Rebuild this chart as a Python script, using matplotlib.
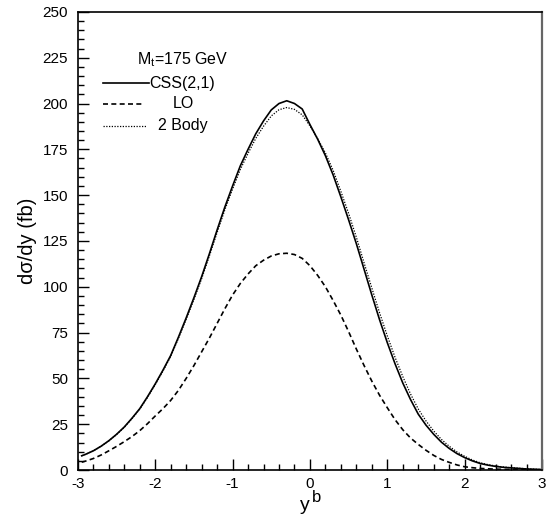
import numpy as np
import matplotlib
matplotlib.use("Agg")
import matplotlib.pyplot as plt
from matplotlib.ticker import MultipleLocator

plt.rcParams["font.family"] = ["Liberation Sans", "DejaVu Sans"]
plt.rcParams["axes.unicode_minus"] = False

# ---- DATA ----
y_b = [-2.95, -2.9, -2.8, -2.7, -2.6, -2.5, -2.4, -2.3, -2.2, -2.1, -2.0,
       -1.9, -1.8, -1.7, -1.6, -1.5, -1.4, -1.3, -1.2, -1.1, -1.0,
       -0.9, -0.8, -0.7, -0.6, -0.5, -0.4, -0.3, -0.2, -0.1, 0.0,
       0.1, 0.2, 0.3, 0.4, 0.5, 0.6, 0.7, 0.8, 0.9, 1.0,
       1.1, 1.2, 1.3, 1.4, 1.5, 1.6, 1.7, 1.8, 1.9, 2.0,
       2.1, 2.2, 2.3, 2.4, 2.5, 2.6, 2.7, 2.8, 2.9, 3.0]

css = [7.8, 8.6, 10.5, 13.0, 16.0, 19.5, 23.5, 28.3, 33.5, 40.0, 47.0,
       54.5, 62.5, 72.5, 83.0, 94.0, 105.5, 118.0, 131.0, 143.5, 155.0,
       166.0, 175.0, 183.5, 190.5, 196.5, 200.0, 201.5, 200.0, 197.0, 188.5,
       180.5, 171.5, 161.0, 149.0, 136.5, 123.5, 109.5, 95.5, 82.0, 69.5,
       58.0, 47.5, 38.5, 30.5, 24.5, 19.5, 15.2, 11.8, 9.0, 6.8,
       5.0, 3.6, 2.7, 2.0, 1.5, 1.2, 0.9, 0.6, 0.45, 0.3]

lo = [4.3, 4.9, 6.3, 8.2, 10.5, 12.9, 15.5, 18.3, 21.5, 25.3, 29.5,
      33.5, 38.0, 43.5, 50.0, 57.0, 64.5, 72.0, 80.0, 88.0, 95.5,
      101.8, 107.0, 111.5, 114.5, 116.8, 118.0, 118.3, 117.6, 115.5, 111.5,
      106.2, 100.0, 92.5, 84.5, 75.5, 66.0, 57.0, 48.5, 40.8, 34.0,
      27.5, 22.0, 17.5, 14.0, 10.8, 8.0, 5.8, 4.2, 2.8, 1.8,
      1.3, 0.9, 0.7, 0.5, 0.4, 0.3, 0.22, 0.15, 0.12, 0.1]

two_body = [7.8, 8.6, 10.5, 13.0, 15.9, 19.4, 23.3, 28.1, 33.2, 39.6, 46.6,
            54.0, 62.0, 71.8, 82.2, 93.0, 104.4, 116.8, 129.6, 142.0, 153.3,
            164.0, 172.8, 181.0, 187.6, 193.2, 196.6, 197.8, 196.8, 193.8, 187.8,
            180.8, 173.0, 163.5, 152.0, 140.0, 127.0, 113.0, 99.3, 85.8, 73.2,
            61.5, 51.0, 41.5, 33.3, 26.8, 21.3, 16.7, 13.0, 9.9, 7.5,
            5.5, 4.0, 3.0, 2.2, 1.7, 1.3, 1.0, 0.7, 0.5, 0.3]

fig = plt.figure(figsize=(5.52, 5.16), dpi=100)
ax = fig.add_axes([0.141, 0.089, 0.841, 0.888])

ax.plot(y_b, css, color="black", lw=1.2, linestyle="-")
ax.plot(y_b, lo, color="black", lw=1.2, linestyle=(0, (3, 2)))
ax.plot(y_b, two_body, color="black", lw=0.9, linestyle=(0, (1, 1.2)))

ax.set_xlim(-3, 3)
ax.set_ylim(0, 250)
ax.xaxis.set_major_locator(MultipleLocator(1))
ax.xaxis.set_minor_locator(MultipleLocator(0.2))
ax.yaxis.set_major_locator(MultipleLocator(25))
ax.yaxis.set_minor_locator(MultipleLocator(5))
ax.tick_params(which="both", direction="in", top=False, right=False,
               labelsize=11, width=1.0)
ax.tick_params(which="major", length=8)
ax.tick_params(which="minor", length=4.5)
ax.tick_params(axis="y", pad=7)
ax.tick_params(axis="x", pad=5)

for s in ax.spines.values():
    s.set_linewidth(1.2)
ax.spines["right"].set_color("#666666")
ax.spines["right"].set_linewidth(1.6)

ax.set_ylabel("d\u03c3/dy (fb)", fontsize=14.5, labelpad=4)
# x label: "y" with a raised "b", placed by hand as in the reference
fig.text(0.553, 0.004, "y", fontsize=14, ha="center", va="bottom")
fig.text(0.574, 0.022, "b", fontsize=12, ha="center", va="bottom")

# ---- legend drawn by hand ----
ax.text(-1.64, 224, "M$_\\mathregular{t}$=175 GeV", fontsize=11.5, ha="center", va="center")
ax.plot([-2.68, -2.08], [211, 211], color="black", lw=1.2)
ax.text(-2.08, 211, "CSS(2,1)", fontsize=11.5, ha="left", va="center")
ax.plot([-2.68, -2.15], [200, 200], color="black", lw=1.2, linestyle=(0, (3, 2)))
ax.text(-1.64, 200, "LO", fontsize=11.5, ha="center", va="center")
ax.plot([-2.68, -2.10], [188, 188], color="black", lw=0.9, linestyle=(0, (1, 1.2)))
ax.text(-1.64, 188, "2 Body", fontsize=11.5, ha="center", va="center")

fig.savefig("out.png", dpi=100)
